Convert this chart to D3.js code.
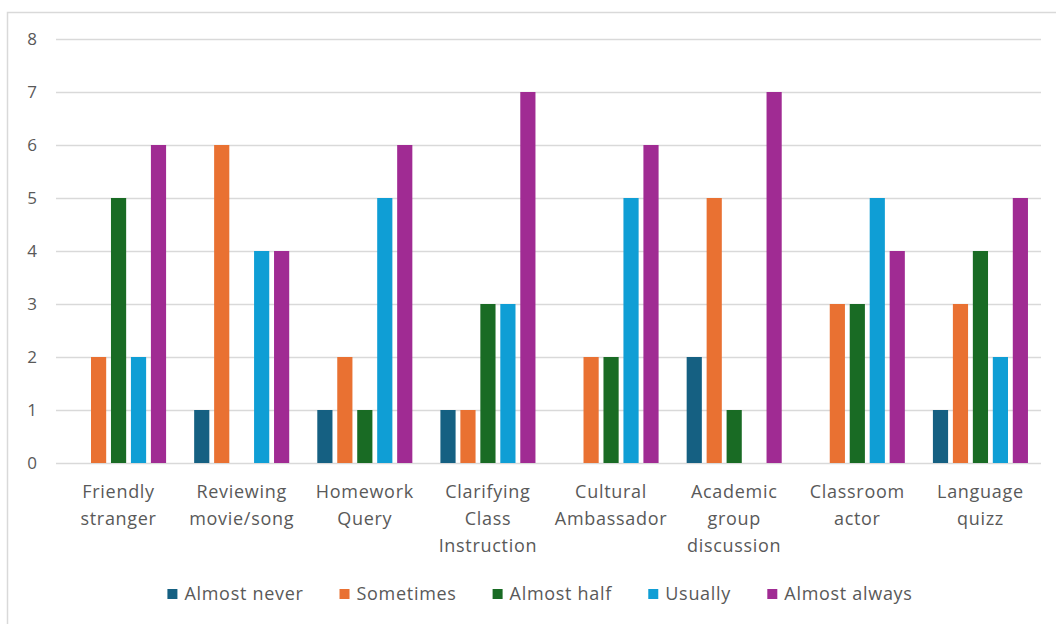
<!DOCTYPE html>
<html><head><meta charset="utf-8">
<script src="https://cdn.jsdelivr.net/npm/d3@7"></script>
<style>
html,body{margin:0;padding:0;background:#fff;}
svg{display:block;font-family:"Open Sans",sans-serif;}
</style></head>
<body>
<svg id="c" width="1056" height="624"></svg>
<script>
const categories = ["Friendly stranger","Reviewing movie/song","Homework Query","Clarifying Class Instruction","Cultural Ambassador","Academic group discussion","Classroom actor","Language quizz"];
const categoryLines = [["Friendly","stranger"],["Reviewing","movie/song"],["Homework","Query"],["Clarifying","Class","Instruction"],["Cultural","Ambassador"],["Academic","group","discussion"],["Classroom","actor"],["Language","quizz"]];
const seriesNames = ["Almost never","Sometimes","Almost half","Usually","Almost always"];
const almostNever  = [0,1,1,1,0,2,0,1];
const sometimes    = [2,6,2,1,2,5,3,3];
const almostHalf   = [5,0,1,3,2,1,3,4];
const usually      = [2,4,5,3,5,0,5,2];
const almostAlways = [6,4,6,7,6,7,4,5];
const yTicks = [0,1,2,3,4,5,6,7,8];
const colors = ["#156082","#E97132","#196B24","#0F9ED5","#A02B93"];

const seriesValues = [almostNever, sometimes, almostHalf, usually, almostAlways];
const svg = d3.select("#c");
const W = 1056, H = 624;
const m = {left:56, right:15, top:39, bottom:161};
const pw = W - m.left - m.right, ph = H - m.top - m.bottom;
const txt = "#595959";
const ls = "0.7px";

// border
svg.append("rect").attr("x",7.5).attr("y",12.5).attr("width",W+10).attr("height",H+10)
  .attr("fill","none").attr("stroke","#d9d9d9").attr("stroke-width",1.5);

const g = svg.append("g").attr("transform",`translate(${m.left},${m.top})`);
const x0 = d3.scaleBand().domain(categories).range([0,pw]).paddingInner(0.228).paddingOuter(0.114);
const x1 = d3.scaleBand().domain(seriesNames).range([0,x0.bandwidth()]).paddingInner(0.24).paddingOuter(0);
const y = d3.scaleLinear().domain([0,8]).range([ph,0]);

// gridlines
const yAxis = d3.axisLeft(y).tickValues(yTicks).tickSize(-pw).tickFormat(d3.format("d"));
const ya = g.append("g").call(yAxis);
ya.select(".domain").remove();
ya.selectAll(".tick line").attr("stroke","#d9d9d9").attr("stroke-width",1.5);
ya.selectAll(".tick text").attr("x",-19).attr("fill",txt).style("font-size","17px").style("font-family","'Open Sans',sans-serif");

// bars
const data = categories.map((c,i)=>({c, vals: seriesNames.map((s,j)=>({s, v: seriesValues[j][i], j}))}));
const grp = g.selectAll(".grp").data(data).join("g").attr("transform",d=>`translate(${x0(d.c)},0)`);
grp.selectAll("rect").data(d=>d.vals.filter(v=>v.v>0)).join("rect")
  .attr("x",d=>x1(d.s)+1).attr("width",x1.bandwidth())
  .attr("y",d=>y(d.v)).attr("height",d=>y(0)-y(d.v))
  .attr("fill",d=>colors[d.j]);

// x axis labels
const xa = g.append("g").attr("transform",`translate(0,${ph})`);
categories.forEach((c,i)=>{
  const cxp = x0(c)+x0.bandwidth()/2+1;
  const t = xa.append("text").attr("x",cxp).attr("y",35)
    .attr("text-anchor","middle").attr("fill",txt).style("font-size","18px").style("letter-spacing",ls);
  categoryLines[i].forEach((ln,k)=>t.append("tspan").attr("x",cxp).attr("dy",k===0?0:27).text(ln));
});

// legend
const lg = svg.append("g").attr("transform",`translate(0,594)`);
const items = lg.selectAll("g").data(seriesNames).join("g");
items.append("rect").attr("width",10).attr("height",10).attr("y",-5).attr("fill",(d,i)=>colors[i]);
items.append("text").attr("x",17).attr("dy","0.35em").attr("fill",txt).style("font-size","18px").style("letter-spacing",ls).text(d=>d);
let widths = [];
items.each(function(){ widths.push(this.getBBox().width); });
const gap = 36;
const total = d3.sum(widths) + gap*(widths.length-1);
let cx = 540 - total/2;
items.attr("transform",(d,i)=>{ const t=`translate(${cx},0)`; cx += widths[i]+gap; return t; });
</script>
</body></html>
